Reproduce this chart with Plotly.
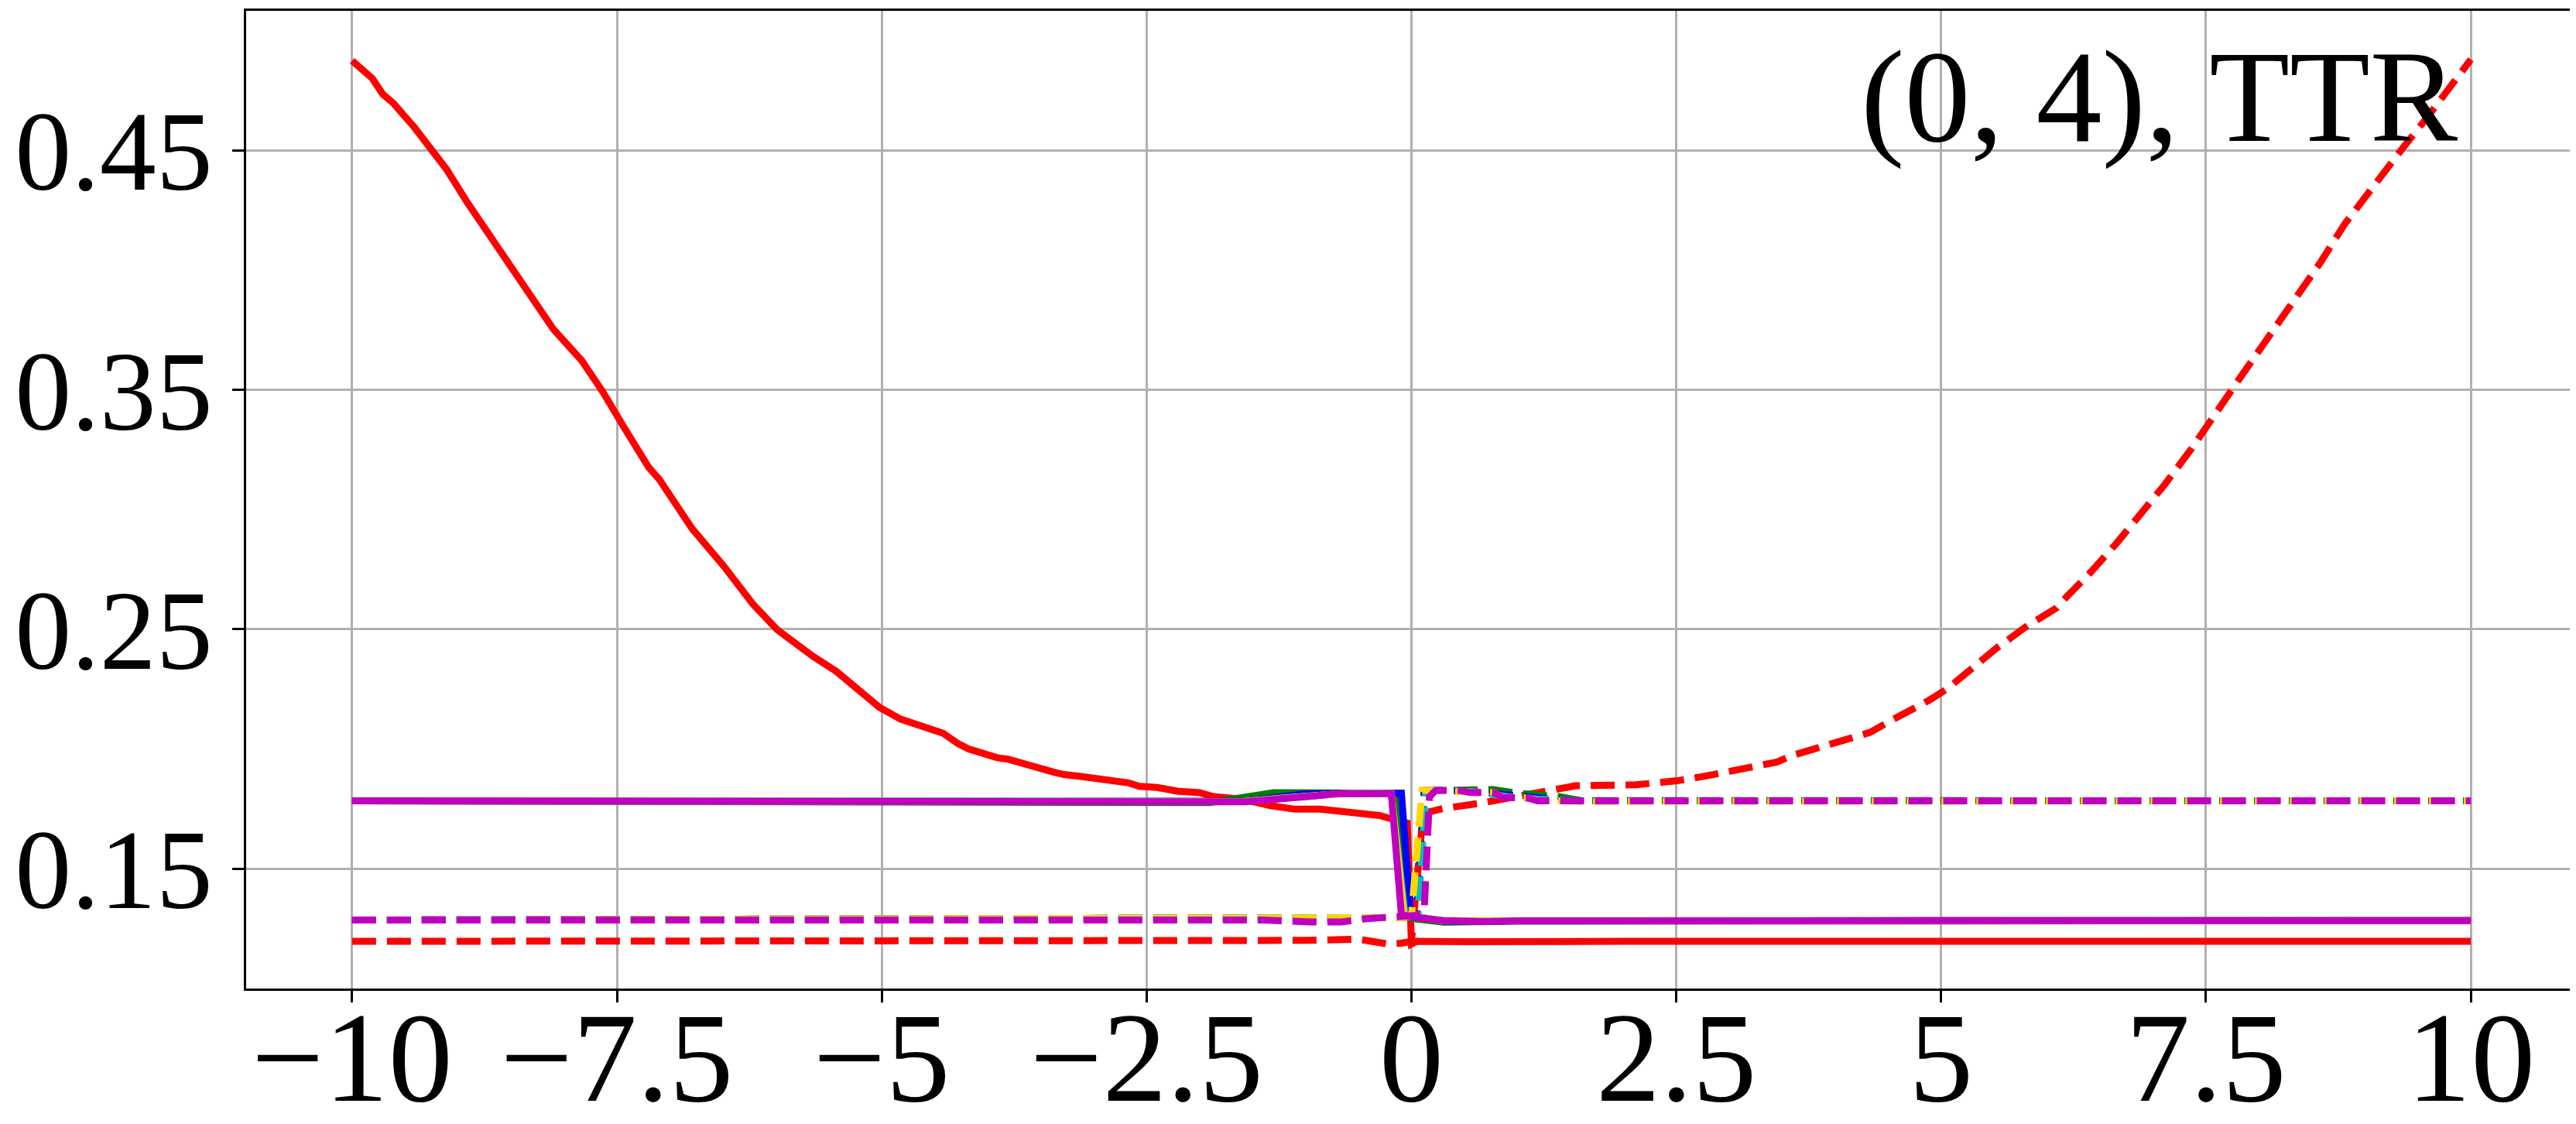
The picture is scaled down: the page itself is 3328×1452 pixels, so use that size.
import plotly.graph_objects as go

# ---------------- data ----------------
red_solid_x = [-10, -9.91, -9.81, -9.71, -9.61, -9.41, -9.28, -9.11, -8.91, -8.6, -8.4, -8.1, -7.83,
               -7.63, -7.43, -7.2, -7.1, -6.79, -6.49, -6.22, -5.99, -5.65, -5.43, -5.22, -5.02,
               -4.82, -4.58, -4.42, -4.28, -4.18, -3.91, -3.81, -3.38, -3.28, -3.11, -2.91, -2.77,
               -2.67, -2.57, -2.4, -2.2, -2.0, -1.87, -1.6, -1.33, -1.1, -0.86, -0.53, -0.3, -0.13,
               -0.04, 0.0, 0.05, 0.5, 1.0, 2.0, 4.0, 6.0, 8.0, 10.0]
red_solid_y = [0.4875, 0.4842, 0.4801, 0.4735, 0.4697, 0.4595, 0.4516, 0.4422, 0.4281, 0.4075, 0.3943,
               0.3753, 0.3621, 0.3489, 0.3341, 0.3176, 0.3126, 0.2920, 0.2763, 0.2607, 0.2499, 0.2387,
               0.2324, 0.2248, 0.2173, 0.2124, 0.2087, 0.2065, 0.2022, 0.2000, 0.1963, 0.1957, 0.1903,
               0.1893, 0.1884, 0.1871, 0.1858, 0.1858, 0.1844, 0.1839, 0.1823, 0.1817, 0.1801, 0.1790,
               0.1763, 0.1748, 0.1748, 0.1736, 0.1722, 0.1700, 0.1690, 0.1185, 0.1196, 0.1195, 0.1197,
               0.1196, 0.1196, 0.1196, 0.1196, 0.1196]

red_dash_x = [-10, -8, -6, -4, -2, -1, -0.5, -0.22, -0.1, 0.0, 0.11, 0.3, 0.65, 0.95, 1.27, 1.55,
              2.12, 2.51, 2.77, 3.08, 3.28, 3.45, 3.59, 3.79, 4.01, 4.2, 4.33, 4.5, 4.62, 4.79, 4.89,
              5.06, 5.17, 5.52, 5.8, 6.09, 6.19, 6.41, 6.65, 6.9, 7.11, 7.36, 7.57, 7.82, 8.07, 8.32,
              8.57, 8.81, 9.06, 9.34, 9.59, 10.0]
red_dash_y = [0.1196, 0.1196, 0.1196, 0.1197, 0.1198, 0.1200, 0.1205, 0.1185, 0.1188, 0.1196, 0.1730,
              0.1751, 0.1773, 0.1796, 0.1827, 0.1846, 0.1850, 0.1867, 0.1886, 0.1913, 0.1929, 0.1945,
              0.1972, 0.1999, 0.2031, 0.2053, 0.2069, 0.2112, 0.2139, 0.2182, 0.2204, 0.2252, 0.2292,
              0.2420, 0.2510, 0.2589, 0.2638, 0.2737, 0.2856, 0.2985, 0.3104, 0.3252, 0.3391, 0.3549,
              0.3708, 0.3866, 0.4025, 0.4193, 0.4342, 0.4500, 0.4639, 0.4880]

green_solid_x = [-10, -2.2, -1.9, -1.3, -0.9, -0.15, -0.05, 0.0, 0.3, 1.0, 10]
green_solid_y = [0.1783, 0.1777, 0.1776, 0.1817, 0.1818, 0.1815, 0.1300, 0.1292, 0.1276, 0.1280, 0.1283]
green_dash_x = [-10, -0.5, -0.1, 0.0, 0.06, 0.12, 0.23, 0.55, 0.77, 1.0, 1.4, 1.6, 10]
green_dash_y = [0.1285, 0.1288, 0.1295, 0.1300, 0.1310, 0.1825, 0.1827, 0.1832, 0.1830, 0.1815, 0.1800, 0.1784, 0.1783]

blue_solid_x = [-10, -1.6, -1.0, -0.6, -0.095, -0.007, 0.3, 1.0, 10]
blue_solid_y = [0.1783, 0.1781, 0.1812, 0.1815, 0.1815, 0.1304, 0.1280, 0.1282, 0.1283]
blue_dash_x = [-10, -0.5, -0.1, 0.0, 0.05, 0.12, 0.23, 0.6, 0.9, 1.2, 1.5, 10]
blue_dash_y = [0.1285, 0.1288, 0.1295, 0.1300, 0.1310, 0.1826, 0.1827, 0.1822, 0.1805, 0.1795, 0.1783, 0.1783]

cyan_solid_x = [-10, -1.6, -0.9, -0.6, -0.19, -0.06, 0.3, 1.0, 10]
cyan_solid_y = [0.1783, 0.1780, 0.1805, 0.1815, 0.1813, 0.1305, 0.1283, 0.1282, 0.1283]
cyan_dash_x = [-10, -0.5, -0.1, 0.0, 0.06, 0.14, 0.23, 0.6, 0.9, 1.2, 1.5, 10]
cyan_dash_y = [0.1285, 0.1288, 0.1295, 0.1300, 0.1310, 0.1825, 0.1827, 0.1820, 0.1800, 0.1790, 0.1783, 0.1783]

gold_solid_x = [-10, -1.6, -1.2, -0.9, -0.6, -0.19, -0.07, 0.3, 1.0, 10]
gold_solid_y = [0.1783, 0.1780, 0.1795, 0.1808, 0.1815, 0.1813, 0.1305, 0.1282, 0.1282, 0.1283]
gold_dash_x = [-10, -0.5, -0.1, 0.0, 0.1, 0.23, 0.45, 0.55, 0.77, 0.87, 1.09, 1.19, 1.41, 1.6, 10]
gold_dash_y = [0.1285, 0.1288, 0.1295, 0.1300, 0.1827, 0.1827, 0.1827, 0.1820, 0.1818, 0.1798, 0.1796,
               0.1785, 0.1783, 0.1781, 0.1783]

magenta_solid_x = [-10, -1.6, -1.57, -0.9, -0.69, -0.19, -0.095, 0.0, 0.3, 0.7, 1.0, 10]
magenta_solid_y = [0.1783, 0.1783, 0.1779, 0.1804, 0.1814, 0.1813, 0.1309, 0.1298, 0.1283, 0.1279, 0.1282, 0.1283]
magenta_dash_x = [-10, -1.4, -0.96, -0.66, -0.44, -0.22, -0.095, 0.05, 0.12, 0.17, 0.23, 0.45, 0.55, 0.77,
                  0.87, 1.09, 1.19, 1.41, 1.6, 10]
magenta_dash_y = [0.1285, 0.1285, 0.1277, 0.1277, 0.1290, 0.1295, 0.1305, 0.1305, 0.1320, 0.1800, 0.1827,
                  0.1827, 0.1818, 0.1818, 0.1796, 0.1796, 0.1783, 0.1783, 0.1780, 0.1783]

x_tick_vals = [-10, -7.5, -5, -2.5, 0, 2.5, 5, 7.5, 10]
x_tick_text = ["\u221210", "\u22127.5", "\u22125", "\u22122.5", "0", "2.5", "5", "7.5", "10"]
y_tick_vals = [0.15, 0.25, 0.35, 0.45]
y_tick_text = ["0.15", "0.25", "0.35", "0.45"]
panel_label = "(0, 4), TTR"

# ---------------- styling ----------------
FONT = "Liberation Serif"
LW = 9
DASH = "31px,14px"

series = [
    (red_solid_x, red_solid_y, "#ff0000", "solid"),
    (red_dash_x, red_dash_y, "#ff0000", DASH),
    (green_solid_x, green_solid_y, "#008000", "solid"),
    (green_dash_x, green_dash_y, "#008000", DASH),
    (blue_solid_x, blue_solid_y, "#0000ff", "solid"),
    (blue_dash_x, blue_dash_y, "#0000ff", DASH),
    (cyan_solid_x, cyan_solid_y, "#00bfbf", "solid"),
    (cyan_dash_x, cyan_dash_y, "#00bfbf", DASH),
    (gold_solid_x, gold_solid_y, "#ffd700", "solid"),
    (gold_dash_x, gold_dash_y, "#ffd700", DASH),
    (magenta_solid_x, magenta_solid_y, "#bf00bf", "solid"),
    (magenta_dash_x, magenta_dash_y, "#bf00bf", DASH),
]

fig = go.Figure()
for xs, ys, col, dash in series:
    fig.add_trace(go.Scatter(x=xs, y=ys, mode="lines",
                             line=dict(color=col, width=LW, dash=dash),
                             showlegend=False, hoverinfo="skip"))

axis_common = dict(
    showgrid=True, gridcolor="#b0b0b0", gridwidth=2.7,
    zeroline=False, showline=True, linecolor="black", linewidth=3.3,
    mirror=True, ticks="outside", ticklen=15, tickwidth=3.3, tickcolor="black",
    automargin=False,
)

fig.update_layout(
    width=3328, height=1452,
    margin=dict(l=310, r=7, t=6, b=183),
    paper_bgcolor="white", plot_bgcolor="white",
    xaxis=dict(range=[-11, 11], tickmode="array", tickvals=x_tick_vals, ticktext=x_tick_text,
               ticklabelstandoff=-72, tickfont=dict(family=FONT, size=166, color="black"),
               **axis_common),
    yaxis=dict(range=[0.0999, 0.5083], tickmode="array", tickvals=y_tick_vals, ticktext=y_tick_text,
               ticklabelstandoff=-4, tickfont=dict(family=FONT, size=146, color="black"),
               **axis_common),
    annotations=[dict(text=panel_label, xref="paper", yref="paper", x=0.950, y=0.9125,
                      xanchor="right", yanchor="middle", showarrow=False,
                      font=dict(family=FONT, size=170, color="black"))],
)

fig.write_html("out.html")
